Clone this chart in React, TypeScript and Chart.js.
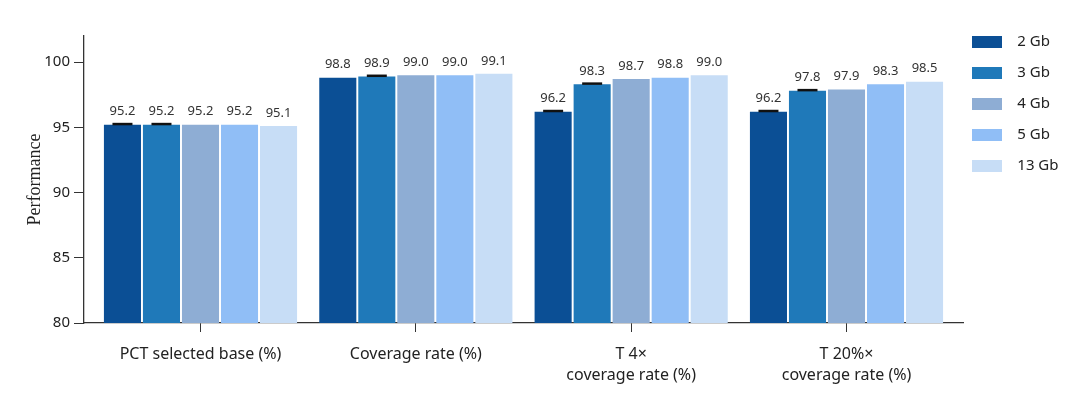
import React, { useEffect, useRef } from "react";
import { Chart, registerables } from "chart.js";

Chart.register(...registerables);

const categories: string[][] = [
  ["PCT selected base (%)"],
  ["Coverage rate (%)"],
  ["T 4×", "coverage rate (%)"],
  ["T 20%×", "coverage rate (%)"],
];
const seriesNames = ["2 Gb", "3 Gb", "4 Gb", "5 Gb", "13 Gb"];
const s2Gb = [95.2, 98.8, 96.2, 96.2];
const s3Gb = [95.2, 98.9, 98.3, 97.8];
const s4Gb = [95.2, 99.0, 98.7, 97.9];
const s5Gb = [95.2, 99.0, 98.8, 98.3];
const s13Gb = [95.1, 99.1, 99.0, 98.5];
const err2Gb = [0.05, 0, 0.05, 0.05];
const err3Gb = [0.05, 0.05, 0.05, 0.05];
const err4Gb = [0, 0, 0, 0];
const err5Gb = [0, 0, 0, 0];
const err13Gb = [0, 0, 0, 0];
const colors = ["#0b4f95", "#1f79b9", "#8eadd4", "#90bef6", "#c7ddf6"];
const yTicks = [80, 85, 90, 95, 100];

const seriesValues = [s2Gb, s3Gb, s4Gb, s5Gb, s13Gb];
const seriesErrors = [err2Gb, err3Gb, err4Gb, err5Gb, err13Gb];

const FONT = "'Noto Sans', sans-serif";

const labelPlugin = {
  id: "valueLabels",
  afterDatasetsDraw(chart: any) {
    const ctx = chart.ctx;
    const yScale = chart.scales.y;
    ctx.save();
    chart.data.datasets.forEach((ds: any, di: number) => {
      const meta = chart.getDatasetMeta(di);
      meta.data.forEach((el: any, i: number) => {
        const v = seriesValues[di][i];
        const e = seriesErrors[di][i];
        if (e > 0) {
          const yTop = yScale.getPixelForValue(v + e);
          ctx.strokeStyle = "#111";
          ctx.lineWidth = 2.5;
          ctx.beginPath();
          ctx.moveTo(el.x - 10, yTop);
          ctx.lineTo(el.x + 10, yTop);
          ctx.stroke();
        }
        ctx.fillStyle = "#333";
        ctx.font = `13px ${FONT}`;
        ctx.textAlign = "center";
        ctx.textBaseline = "middle";
        ctx.fillText(v.toFixed(1), el.x, el.y - 13);
      });
    });
    ctx.restore();
  },
};

const legendShift = {
  id: "legendShift",
  afterLayout(chart: any) {
    const lg = chart.legend;
    if (!lg) return;
    lg.left -= 7;
    lg.right -= 7;
    lg.top -= 17.5;
    lg.bottom -= 17.5;
  },
};

export default function App() {
  const ref = useRef<HTMLCanvasElement | null>(null);
  useEffect(() => {
    if (!ref.current) return;
    const chart = new Chart(ref.current, {
      type: "bar",
      data: {
        datasets: seriesNames.map((name, di) => ({
          label: name,
          data: seriesValues[di].map((v, i) => ({ x: i, y: v })),
          backgroundColor: colors[di],
          borderWidth: 0,
          categoryPercentage: 0.906,
          barPercentage: 0.95,
        })),
      },
      options: {
        animation: false,
        responsive: true,
        maintainAspectRatio: false,
        layout: { padding: { top: 28, left: 0, right: 0, bottom: 0 } },
        plugins: {
          tooltip: { enabled: false },
          legend: {
            position: "right",
            align: "start",
            maxWidth: 109,
            labels: {
              boxWidth: 30,
              boxHeight: 12,
              padding: 16,
              color: "#222",
              font: { family: FONT, size: 15 },
              generateLabels: (chart: any) =>
                Chart.defaults.plugins.legend.labels
                  .generateLabels(chart)
                  .map((l: any) => ({ ...l, text: "  " + l.text, lineWidth: 0 })),
            },
          },
        },
        scales: {
          x: {
            type: "linear",
            min: -0.541,
            max: 3.541,
            offset: false,
            afterBuildTicks: (scale: any) => {
              scale.ticks = categories.map((_, i) => ({ value: i }));
            },
            afterFit: (scale: any) => {
              scale.height = 69;
            },
            grid: {
              display: true,
              drawOnChartArea: false,
              drawTicks: true,
              tickLength: 9,
              offset: false,
              color: "#333",
              lineWidth: 1,
            },
            border: { display: true, color: "#333", width: 1.3 },
            ticks: {
              autoSkip: false,
              maxRotation: 0,
              minRotation: 0,
              padding: 12,
              color: "#222",
              font: { family: FONT, size: 16, lineHeight: 1.3 },
              callback: (v: any) => categories[Math.round(Number(v))] ?? "",
            },
          },
          y: {
            type: "linear",
            min: 80,
            max: 102,
            afterBuildTicks: (scale: any) => {
              scale.ticks = yTicks.map((v) => ({ value: v }));
            },
            afterFit: (scale: any) => {
              scale.width = 76;
            },
            grid: {
              display: true,
              drawOnChartArea: false,
              drawTicks: true,
              tickLength: 10,
              color: "#333",
              lineWidth: 1,
            },
            border: { display: true, color: "#333", width: 1.3 },
            ticks: {
              padding: 4,
              color: "#222",
              font: { family: FONT, size: 15 },
            },
            title: {
              display: true,
              text: "Performance",
              color: "#222",
              font: { family: "'Liberation Serif', serif", size: 18 },
              padding: { top: 16, bottom: 0 },
            },
          },
        },
      },
      plugins: [labelPlugin, legendShift],
    });
    return () => chart.destroy();
  }, []);
  return (
    <div style={{ width: "1064px", height: "384px", position: "relative" }}>
      <canvas ref={ref} />
    </div>
  );
}
